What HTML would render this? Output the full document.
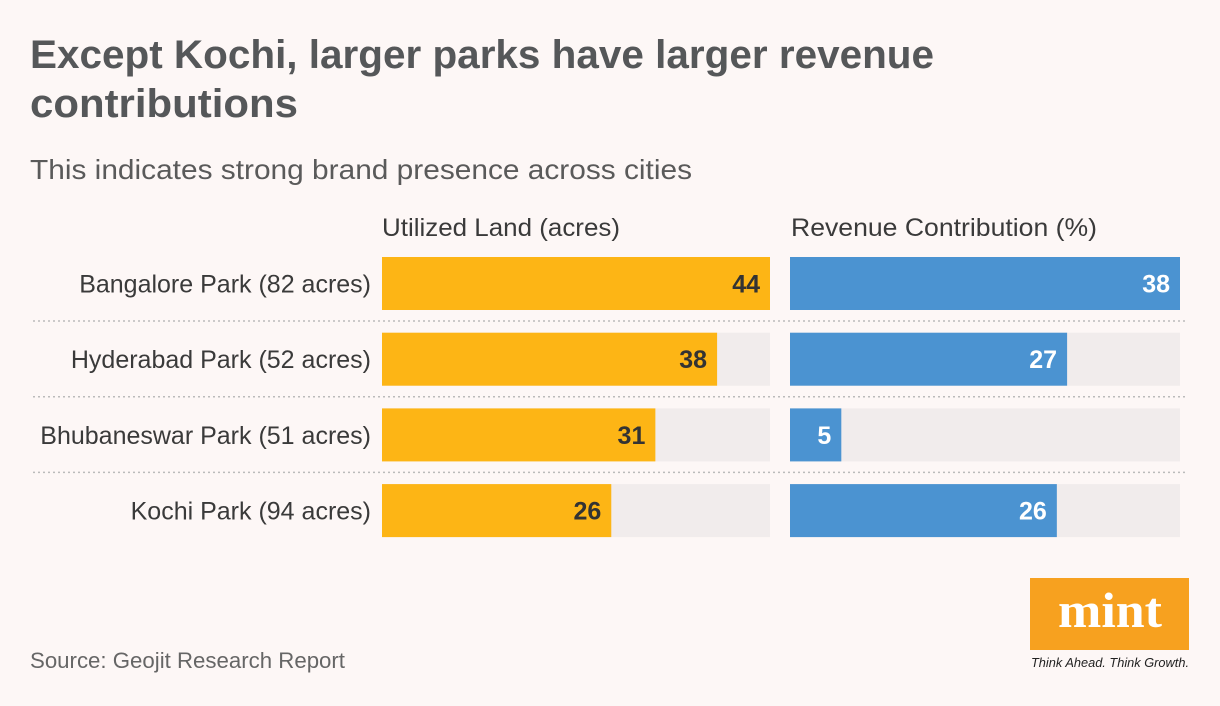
<!DOCTYPE html>
<html><head><meta charset="utf-8"><style>
html,body{margin:0;padding:0;background:#fdf7f6;}
svg{display:block;font-family:"Liberation Sans",sans-serif;}
</style></head><body>
<svg id="chart" width="1220" height="706" viewBox="0 0 1220 706">
<rect x="0" y="0" width="1220" height="706" fill="#fdf7f6"/>
<text x="30" y="68" font-size="40" font-weight="bold" fill="#555759" textLength="904" lengthAdjust="spacingAndGlyphs">Except Kochi, larger parks have larger revenue</text>
<text x="30" y="117" font-size="40" font-weight="bold" fill="#555759" textLength="268" lengthAdjust="spacingAndGlyphs">contributions</text>
<text x="30" y="179" font-size="28" fill="#5a5a5a" textLength="662" lengthAdjust="spacingAndGlyphs">This indicates strong brand presence across cities</text>
<text x="382" y="236" font-size="25" fill="#3a3a3a" textLength="238" lengthAdjust="spacingAndGlyphs">Utilized Land (acres)</text>
<text x="791" y="236" font-size="25" fill="#3a3a3a" textLength="306" lengthAdjust="spacingAndGlyphs">Revenue Contribution (%)</text>
<g id="rows"></g>
<text x="30" y="668" font-size="22" fill="#666" textLength="315" lengthAdjust="spacingAndGlyphs">Source: Geojit Research Report</text>
<g>
<rect x="1030" y="578" width="159" height="72" fill="#f7a11f"/>
<text x="1058" y="627" font-size="50" font-weight="bold" font-family="Liberation Serif,serif" fill="#fff" textLength="104" lengthAdjust="spacingAndGlyphs">mint</text>
<text x="1110" y="667" font-size="13" font-style="italic" fill="#222" text-anchor="middle" textLength="158" lengthAdjust="spacingAndGlyphs">Think Ahead. Think Growth.</text>
</g>
</svg>
<script>
const categories = ["Bangalore Park (82 acres)","Hyderabad Park (52 acres)","Bhubaneswar Park (51 acres)","Kochi Park (94 acres)"];
const landValues = [44,38,31,26];
const revenueValues = [38,27,5,26];
const landMax = 44, revMax = 38;
const NS="http://www.w3.org/2000/svg";
const g=document.getElementById('rows');
function mk(t,a){const e=document.createElementNS(NS,t);for(const k in a)e.setAttribute(k,a[k]);g.appendChild(e);return e;}
const lx=382,lw=388,rx=790,rw=390,rowTop=257,rowStep=75.7,bh=53;
const xL=v=>lw*v/landMax, xR=v=>rw*v/revMax;
categories.forEach((c,i)=>{
  const y=rowTop+i*rowStep;
  let t=mk('text',{x:371,y:y+bh/2+9,'font-size':25,fill:'#3a3a3a','text-anchor':'end'});t.textContent=c;
  
  
  let e=mk('rect',{x:lx,y:y,width:lw,height:bh,fill:'#f1ecec'});
  
  
  e=mk('rect',{x:lx,y:y,width:xL(landValues[i]),height:bh,fill:'#fdb515'});
  
  
  t=mk('text',{x:lx+xL(landValues[i])-10,y:y+bh/2+9,'font-size':25,'font-weight':'bold',fill:'#333','text-anchor':'end'});t.textContent=landValues[i];
  
  
  e=mk('rect',{x:rx,y:y,width:rw,height:bh,fill:'#f1ecec'});
  
  
  e=mk('rect',{x:rx,y:y,width:xR(revenueValues[i]),height:bh,fill:'#4b93d1'});
  
  
  t=mk('text',{x:rx+xR(revenueValues[i])-10,y:y+bh/2+9,'font-size':25,'font-weight':'bold',fill:'#fff','text-anchor':'end'});t.textContent=revenueValues[i];
  
  
  if(i<categories.length-1){
    e=mk('line',{x1:33,x2:1187,y1:y+bh+11,y2:y+bh+11,stroke:'#bbb','stroke-width':1.5,'stroke-dasharray':'2 3'});
    
    
  }
});
</script>
</body></html>
